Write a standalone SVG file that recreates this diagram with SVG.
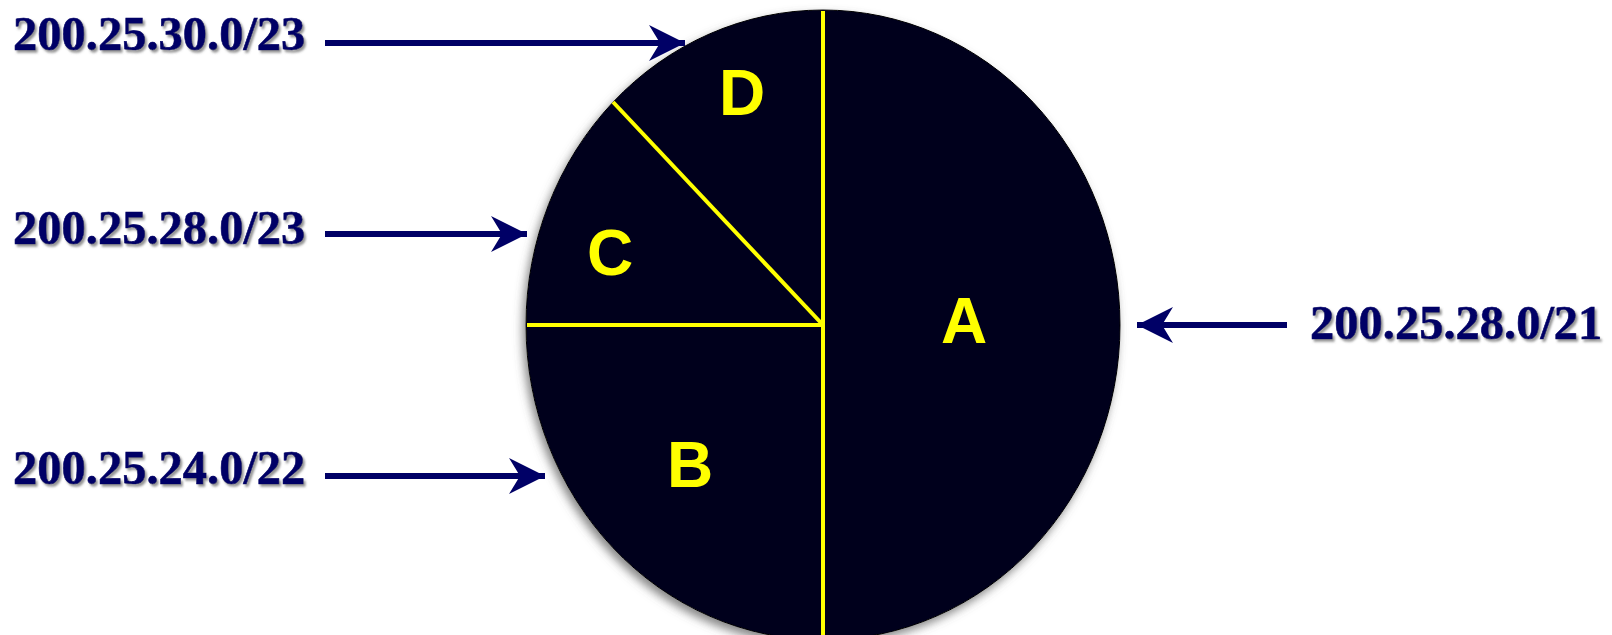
<svg xmlns="http://www.w3.org/2000/svg" width="1612" height="635" viewBox="0 0 1612 635">
<style>
.lbl{font-family:"Liberation Serif","Times New Roman",serif;font-weight:bold;font-size:48.5px;fill:#000066;stroke:#000066;stroke-width:0.6}
.seg{font-family:"Liberation Sans",Arial,sans-serif;font-weight:bold;font-size:64px;fill:#ffff00;text-anchor:middle}
.arr{stroke:#000066;stroke-width:6;fill:none;marker-end:url(#ah)}
.yl{stroke:#ffff00;stroke-width:4;fill:none}
</style>
<defs>
<filter id="ts" x="-5%" y="-20%" width="115%" height="150%">
<feDropShadow dx="2" dy="2.5" stdDeviation="1.2" flood-color="#666" flood-opacity="0.7"/>
</filter>
<filter id="cs" x="-10%" y="-10%" width="120%" height="120%">
<feDropShadow dx="-3" dy="5" stdDeviation="5" flood-color="#555" flood-opacity="0.7"/>
</filter>
<marker id="ah" markerUnits="userSpaceOnUse" viewBox="-2 -20 40 40" markerWidth="40" markerHeight="40" refX="36" refY="0" orient="auto">
<path d="M0,-18 L36,0 L0,18 L11,0 Z" fill="#000066"/>
</marker>
</defs>
<g id="pie">
<ellipse cx="823" cy="325" rx="297" ry="315" fill="#00001f" stroke="#000" stroke-width="1" filter="url(#cs)"/>
<line class="yl" x1="823" y1="11" x2="823" y2="635"/>
<line class="yl" x1="527" y1="325" x2="823" y2="325"/>
<line class="yl" x1="613" y1="102" x2="823" y2="325"/>
</g>
<g id="seg-A"><text class="seg" x="964" y="343">A</text></g>
<g id="seg-B"><text class="seg" x="690" y="487">B</text></g>
<g id="seg-C"><text class="seg" x="610" y="275">C</text></g>
<g id="seg-D"><text class="seg" x="742" y="115">D</text></g>
<g id="label-1"><text class="lbl" x="13" y="50" filter="url(#ts)">200.25.30.0/23</text></g>
<g id="label-2"><text class="lbl" x="13" y="244" filter="url(#ts)">200.25.28.0/23</text></g>
<g id="label-3"><text class="lbl" x="13" y="484" filter="url(#ts)">200.25.24.0/22</text></g>
<g id="label-4"><text class="lbl" x="1310" y="339" filter="url(#ts)">200.25.28.0/21</text></g>
<g id="connectors">
<line class="arr" x1="325" y1="43" x2="685" y2="43"/>
<line class="arr" x1="325" y1="234" x2="527" y2="234"/>
<line class="arr" x1="325" y1="476" x2="545" y2="476"/>
<line class="arr" x1="1287" y1="325" x2="1137" y2="325"/>
</g>
</svg>
